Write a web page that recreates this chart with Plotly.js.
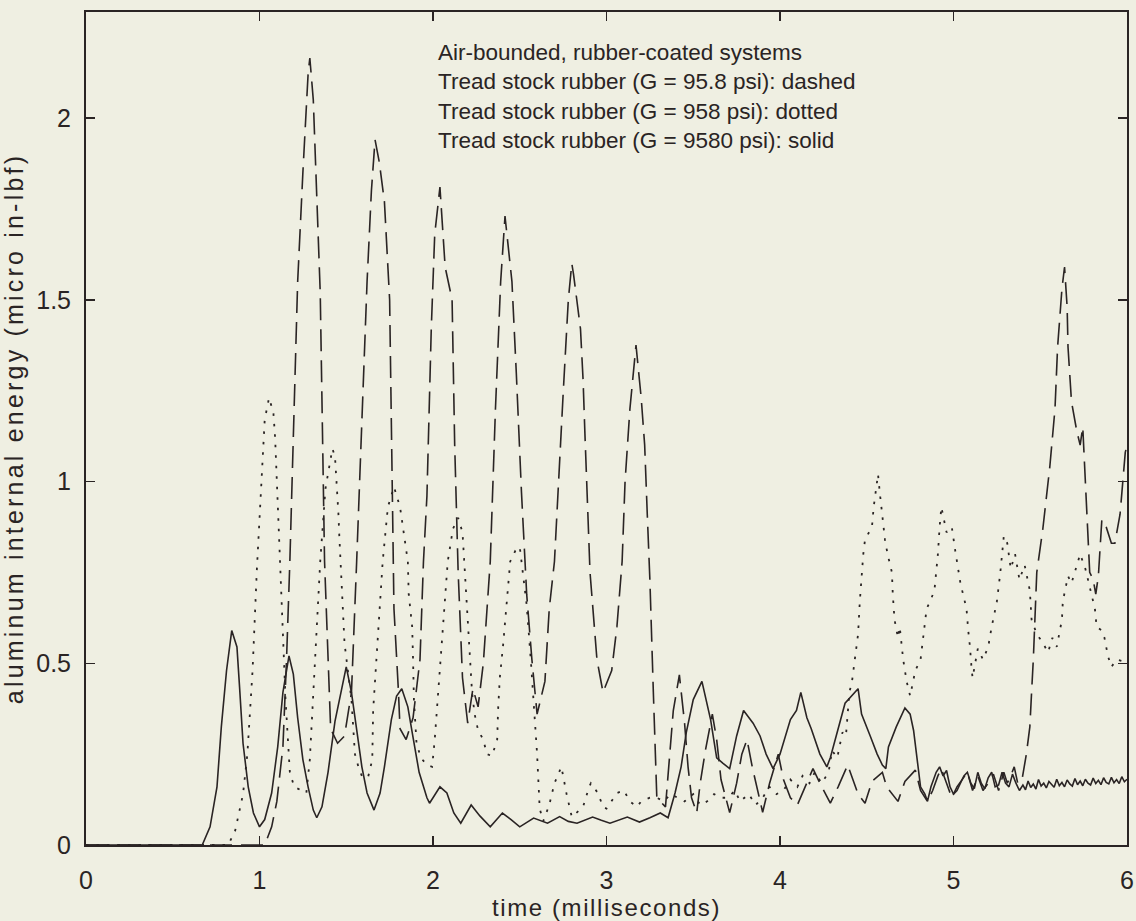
<!DOCTYPE html>
<html>
<head>
<meta charset="utf-8">
<script src="https://cdn.plot.ly/plotly-3.0.1.min.js"></script>
<style>
  html, body { margin: 0; padding: 0; background: #efefe2; }
  #chart { width: 1136px; height: 921px; }
  #chart .ytitle { letter-spacing: 3.2px; }
  #chart .xtitle { letter-spacing: 1.6px; }
</style>
</head>
<body>
<div id="chart"></div>
<script>
// ---- Data (time in ms, energy in micro in-lbf) ----
const solidT = [0, 0.67, 0.715, 0.755, 0.78, 0.81, 0.84, 0.87, 0.885, 0.905, 0.935, 0.965, 1.0, 1.03, 1.07, 1.105, 1.135, 1.17, 1.195, 1.22, 1.25, 1.28, 1.31, 1.33, 1.36, 1.395, 1.435, 1.475, 1.5, 1.53, 1.56, 1.59, 1.62, 1.66, 1.695, 1.72, 1.76, 1.79, 1.82, 1.855, 1.88, 1.92, 1.965, 1.98, 2.04, 2.08, 2.12, 2.16, 2.22, 2.27, 2.33, 2.40, 2.45, 2.50, 2.58, 2.66, 2.73, 2.78, 2.83, 2.92, 2.97, 3.02, 3.12, 3.19, 3.25, 3.31, 3.355, 3.395, 3.43, 3.46, 3.5, 3.55, 3.6, 3.635, 3.67, 3.71, 3.75, 3.79, 3.845, 3.885, 3.92, 3.96, 4.0, 4.06, 4.095, 4.12, 4.155, 4.18, 4.23, 4.27, 4.29, 4.33, 4.375, 4.45, 4.47, 4.52, 4.56, 4.59, 4.61, 4.625, 4.67, 4.72, 4.75, 4.77, 4.79, 4.81, 4.835, 4.85, 4.87, 4.9, 4.92, 4.94, 4.96, 4.98, 5.0, 5.02, 5.04, 5.06, 5.08, 5.1, 5.12, 5.14, 5.16, 5.18, 5.2, 5.22, 5.24, 5.26, 5.28, 5.3, 5.32, 5.34, 5.36, 5.38, 5.4, 5.415, 5.43, 5.445, 5.46, 5.475, 5.49, 5.505, 5.52, 5.535, 5.55, 5.565, 5.58, 5.595, 5.61, 5.625, 5.64, 5.655, 5.67, 5.685, 5.7, 5.715, 5.73, 5.745, 5.76, 5.775, 5.79, 5.805, 5.82, 5.835, 5.85, 5.865, 5.88, 5.895, 5.91, 5.925, 5.94, 5.955, 5.97, 5.985, 6.0];
const solidE = [0, 0, 0.05, 0.16, 0.325, 0.48, 0.59, 0.545, 0.435, 0.28, 0.16, 0.088, 0.05, 0.07, 0.143, 0.27, 0.42, 0.52, 0.47, 0.35, 0.235, 0.16, 0.096, 0.075, 0.105, 0.2, 0.34, 0.435, 0.49, 0.42, 0.31, 0.215, 0.143, 0.096, 0.143, 0.215, 0.345, 0.41, 0.43, 0.38, 0.31, 0.2, 0.13, 0.115, 0.16, 0.143, 0.088, 0.06, 0.11, 0.08, 0.05, 0.088, 0.07, 0.05, 0.074, 0.06, 0.078, 0.065, 0.06, 0.077, 0.068, 0.06, 0.077, 0.063, 0.075, 0.088, 0.075, 0.143, 0.215, 0.31, 0.4, 0.45, 0.345, 0.24, 0.225, 0.21, 0.3, 0.37, 0.335, 0.3, 0.25, 0.21, 0.25, 0.345, 0.37, 0.42, 0.35, 0.32, 0.25, 0.215, 0.24, 0.31, 0.39, 0.43, 0.36, 0.3, 0.25, 0.22, 0.21, 0.27, 0.325, 0.377, 0.36, 0.315, 0.24, 0.16, 0.14, 0.12, 0.16, 0.2, 0.215, 0.19, 0.205, 0.16, 0.14, 0.15, 0.17, 0.19, 0.2, 0.17, 0.155, 0.2, 0.17, 0.155, 0.185, 0.2, 0.16, 0.165, 0.2, 0.17, 0.16, 0.195, 0.17, 0.15, 0.165, 0.152, 0.176, 0.158, 0.168, 0.154, 0.18, 0.162, 0.17, 0.157, 0.175, 0.166, 0.159, 0.181, 0.163, 0.172, 0.16, 0.179, 0.168, 0.162, 0.183, 0.166, 0.176, 0.163, 0.181, 0.17, 0.165, 0.184, 0.169, 0.178, 0.166, 0.185, 0.172, 0.168, 0.186, 0.171, 0.18, 0.169, 0.188, 0.174, 0.181, 0.176, 0.187];

const dottedT = [0, 0.82, 0.86, 0.905, 0.93, 0.96, 0.985, 1.015, 1.03, 1.055, 1.08, 1.09, 1.1, 1.11, 1.12, 1.135, 1.15, 1.165, 1.175, 1.2, 1.245, 1.27, 1.29, 1.31, 1.33, 1.35, 1.38, 1.42, 1.435, 1.445, 1.455, 1.46, 1.475, 1.49, 1.53, 1.54, 1.55, 1.57, 1.59, 1.625, 1.65, 1.655, 1.675, 1.695, 1.71, 1.74, 1.775, 1.81, 1.855, 1.86, 1.88, 1.885, 1.89, 1.905, 1.93, 1.965, 1.995, 2.01, 2.03, 2.05, 2.07, 2.085, 2.115, 2.145, 2.17, 2.19, 2.21, 2.225, 2.24, 2.26, 2.29, 2.31, 2.34, 2.37, 2.375, 2.385, 2.405, 2.425, 2.445, 2.475, 2.5, 2.51, 2.54, 2.565, 2.58, 2.6, 2.615, 2.635, 2.67, 2.7, 2.74, 2.77, 2.8, 2.865, 2.9, 2.91, 2.95, 2.98, 3.0, 3.06, 3.1, 3.135, 3.175, 3.2, 3.25, 3.29, 3.33, 3.37, 3.41, 3.45, 3.5, 3.54, 3.58, 3.62, 3.66, 3.7, 3.74, 3.77, 3.82, 3.86, 3.9, 3.94, 3.98, 4.02, 4.06, 4.1, 4.13, 4.17, 4.2, 4.24, 4.28, 4.3, 4.33, 4.36, 4.38, 4.4, 4.415, 4.43, 4.45, 4.46, 4.47, 4.48, 4.49, 4.53, 4.54, 4.565, 4.575, 4.595, 4.605, 4.62, 4.645, 4.65, 4.66, 4.68, 4.69, 4.71, 4.73, 4.75, 4.78, 4.81, 4.825, 4.845, 4.865, 4.89, 4.9, 4.91, 4.92, 4.93, 4.96, 4.99, 5.01, 5.02, 5.04, 5.055, 5.075, 5.085, 5.095, 5.105, 5.11, 5.14, 5.17, 5.2, 5.22, 5.25, 5.27, 5.29, 5.31, 5.33, 5.355, 5.38, 5.41, 5.44, 5.45, 5.48, 5.51, 5.545, 5.57, 5.595, 5.625, 5.63, 5.66, 5.68, 5.73, 5.76, 5.79, 5.815, 5.825, 5.855, 5.87, 5.89, 5.91, 5.94, 5.98, 6.0];
const dottedE = [0, 0, 0.04, 0.14, 0.25, 0.48, 0.76, 1.02, 1.17, 1.23, 1.19, 1.12, 1.0, 0.87, 0.78, 0.55, 0.4, 0.28, 0.2, 0.16, 0.15, 0.143, 0.235, 0.42, 0.6, 0.78, 0.98, 1.09, 1.07, 1.0, 0.91, 0.85, 0.72, 0.555, 0.4, 0.325, 0.25, 0.215, 0.19, 0.185, 0.235, 0.37, 0.51, 0.65, 0.78, 0.93, 0.985, 0.93, 0.78, 0.69, 0.6, 0.51, 0.4, 0.28, 0.24, 0.22, 0.215, 0.29, 0.42, 0.555, 0.69, 0.78, 0.87, 0.9, 0.86, 0.7, 0.51, 0.42, 0.36, 0.315, 0.29, 0.25, 0.245, 0.29, 0.37, 0.46, 0.555, 0.67, 0.78, 0.81, 0.82, 0.78, 0.66, 0.5, 0.4, 0.25, 0.1, 0.065, 0.11, 0.17, 0.215, 0.14, 0.077, 0.105, 0.16, 0.17, 0.143, 0.105, 0.1, 0.143, 0.15, 0.12, 0.105, 0.12, 0.13, 0.13, 0.12, 0.14, 0.13, 0.12, 0.14, 0.11, 0.12, 0.14, 0.13, 0.13, 0.15, 0.12, 0.14, 0.11, 0.13, 0.16, 0.14, 0.15, 0.18, 0.16, 0.19, 0.17, 0.2, 0.17, 0.2, 0.26, 0.24, 0.31, 0.3, 0.42, 0.45, 0.5, 0.58, 0.67, 0.75, 0.8, 0.84, 0.875, 0.93, 1.02, 0.97, 0.89, 0.84, 0.8, 0.75, 0.69, 0.62, 0.57, 0.6, 0.51, 0.45, 0.41, 0.48, 0.51, 0.57, 0.65, 0.67, 0.7, 0.75, 0.8, 0.875, 0.93, 0.86, 0.875, 0.81, 0.78, 0.72, 0.69, 0.65, 0.59, 0.545, 0.48, 0.46, 0.54, 0.51, 0.545, 0.6, 0.67, 0.75, 0.85, 0.83, 0.76, 0.8, 0.73, 0.77, 0.7, 0.62, 0.58, 0.56, 0.53, 0.57, 0.545, 0.62, 0.67, 0.74, 0.72, 0.8, 0.76, 0.7, 0.65, 0.6, 0.59, 0.57, 0.52, 0.49, 0.51, 0.505, 0.5];

const dashedT = [0, 1.03, 1.07, 1.1, 1.135, 1.155, 1.175, 1.2, 1.22, 1.25, 1.28, 1.29, 1.31, 1.35, 1.375, 1.41, 1.45, 1.49, 1.53, 1.56, 1.6, 1.62, 1.645, 1.666, 1.69, 1.72, 1.75, 1.765, 1.775, 1.8, 1.81, 1.845, 1.885, 1.925, 1.945, 1.965, 1.99, 2.01, 2.04, 2.07, 2.11, 2.125, 2.145, 2.17, 2.2, 2.23, 2.26, 2.29, 2.33, 2.36, 2.39, 2.415, 2.455, 2.48, 2.51, 2.54, 2.57, 2.6, 2.645, 2.67, 2.70, 2.75, 2.78, 2.8, 2.81, 2.85, 2.865, 2.875, 2.89, 2.905, 2.945, 2.98, 3.03, 3.06, 3.09, 3.107, 3.135, 3.17, 3.2, 3.22, 3.235, 3.25, 3.27, 3.29, 3.34, 3.37, 3.385, 3.42, 3.45, 3.47, 3.49, 3.52, 3.54, 3.57, 3.61, 3.635, 3.66, 3.71, 3.75, 3.78, 3.81, 3.84, 3.87, 3.9, 3.94, 3.99, 4.02, 4.06, 4.1, 4.155, 4.19, 4.23, 4.29, 4.335, 4.39, 4.42, 4.45, 4.49, 4.53, 4.59, 4.615, 4.68, 4.72, 4.78, 4.81, 4.85, 4.88, 4.91, 4.93, 4.96, 4.99, 5.02, 5.05, 5.08, 5.11, 5.14, 5.17, 5.2, 5.23, 5.26, 5.29, 5.31, 5.33, 5.35, 5.37, 5.395, 5.42, 5.44, 5.45, 5.46, 5.48, 5.515, 5.555, 5.585, 5.6, 5.625, 5.64, 5.655, 5.66, 5.68, 5.71, 5.73, 5.745, 5.755, 5.77, 5.785, 5.805, 5.82, 5.835, 5.855, 5.88, 5.91, 5.93, 5.96, 5.99, 6.0];
const dashedE = [0, 0, 0.05, 0.12, 0.27, 0.5, 0.78, 1.2, 1.55, 1.85, 2.12, 2.165, 2.05, 1.52, 0.78, 0.32, 0.28, 0.3, 0.42, 0.78, 1.3, 1.55, 1.8, 1.94, 1.88, 1.77, 1.5, 0.91, 0.65, 0.43, 0.32, 0.29, 0.35, 0.51, 0.78, 0.96, 1.42, 1.68, 1.81, 1.59, 1.5, 1.1, 0.75, 0.46, 0.335, 0.43, 0.38, 0.5, 0.78, 1.2, 1.55, 1.73, 1.55, 1.3, 0.97, 0.69, 0.51, 0.36, 0.45, 0.65, 0.78, 1.24, 1.5, 1.6, 1.57, 1.42, 1.28, 1.14, 0.96, 0.75, 0.51, 0.42, 0.48, 0.6, 0.78, 1.0, 1.2, 1.375, 1.23, 1.1, 0.91, 0.73, 0.42, 0.13, 0.105, 0.3, 0.37, 0.468, 0.335, 0.215, 0.13, 0.088, 0.17, 0.26, 0.36, 0.29, 0.18, 0.089, 0.17, 0.25, 0.29, 0.215, 0.15, 0.09, 0.17, 0.25, 0.18, 0.13, 0.11, 0.17, 0.21, 0.17, 0.115, 0.16, 0.22, 0.18, 0.14, 0.115, 0.175, 0.2, 0.16, 0.12, 0.175, 0.206, 0.15, 0.12, 0.15, 0.19, 0.21, 0.17, 0.13, 0.16, 0.18, 0.2, 0.15, 0.19, 0.15, 0.17, 0.195, 0.15, 0.2, 0.17, 0.19, 0.215, 0.17, 0.18, 0.25, 0.325, 0.42, 0.51, 0.75, 0.87, 1.04, 1.2, 1.37, 1.53, 1.59, 1.48, 1.37, 1.22, 1.14, 1.1, 1.15, 1.06, 0.91, 0.75, 0.73, 0.69, 0.74, 0.895, 0.875, 0.83, 0.83, 0.91, 1.08, 1.1];

const xTicks = [0, 1, 2, 3, 4, 5, 6];
const yTicks = [0, 0.5, 1, 1.5, 2];
const yTickText = ['0', '0.5', '1', '1.5', '2'];
const noteLines = [
  'Air-bounded, rubber-coated systems',
  'Tread stock rubber (G = 95.8 psi): dashed',
  'Tread stock rubber (G = 958 psi): dotted',
  'Tread stock rubber (G = 9580 psi): solid'
];
const xTitle = 'time (milliseconds)';
const yTitle = 'aluminum internal energy (micro in-lbf)';

// ---- Styling ----
const ink = '#2a2424';
const bg = '#efefe2';
const fontFam = 'Liberation Sans, Arial, Helvetica, sans-serif';

const traces = [
  {x: dashedT, y: dashedE, mode: 'lines', name: 'G = 95.8 psi',
   line: {color: ink, width: 1.6, dash: '22px,9px'}},
  {x: dottedT, y: dottedE, mode: 'lines', name: 'G = 958 psi',
   line: {color: ink, width: 1.8, dash: '2.5px,8px'}},
  {x: solidT, y: solidE, mode: 'lines', name: 'G = 9580 psi',
   line: {color: ink, width: 1.6}}
];

const axisCommon = {
  showline: true, mirror: 'ticks', linecolor: ink, linewidth: 2,
  ticks: 'inside', ticklen: 9, tickwidth: 1.5, tickcolor: ink,
  showgrid: false, zeroline: false,
  tickfont: {family: fontFam, size: 25, color: ink}
};

const layout = {
  width: 1136, height: 921,
  margin: {l: 86, r: 9, t: 12, b: 76},
  paper_bgcolor: bg, plot_bgcolor: bg,
  showlegend: false,
  font: {family: fontFam, color: ink},
  xaxis: Object.assign({}, axisCommon, {
    range: [0, 6], tickvals: xTicks, ticktext: xTicks.map(String),
    ticklabelstandoff: 12,
    title: {text: xTitle, font: {family: fontFam, size: 24, color: ink}, standoff: 10}
  }),
  yaxis: Object.assign({}, axisCommon, {
    range: [0, 2.2916], tickvals: yTicks, ticktext: yTickText,
    ticklabelstandoff: 8,
    title: {text: yTitle, font: {family: fontFam, size: 25, color: ink}, standoff: 8}
  }),
  annotations: [{
    xref: 'x', yref: 'y', x: 2.02, y: 2.22, xanchor: 'left', yanchor: 'top',
    align: 'left', showarrow: false,
    text: noteLines.join('<br>'),
    font: {family: fontFam, size: 22.5, color: ink}
  }]
};

Plotly.newPlot('chart', traces, layout, {staticPlot: true, displayModeBar: false});
</script>
</body>
</html>
